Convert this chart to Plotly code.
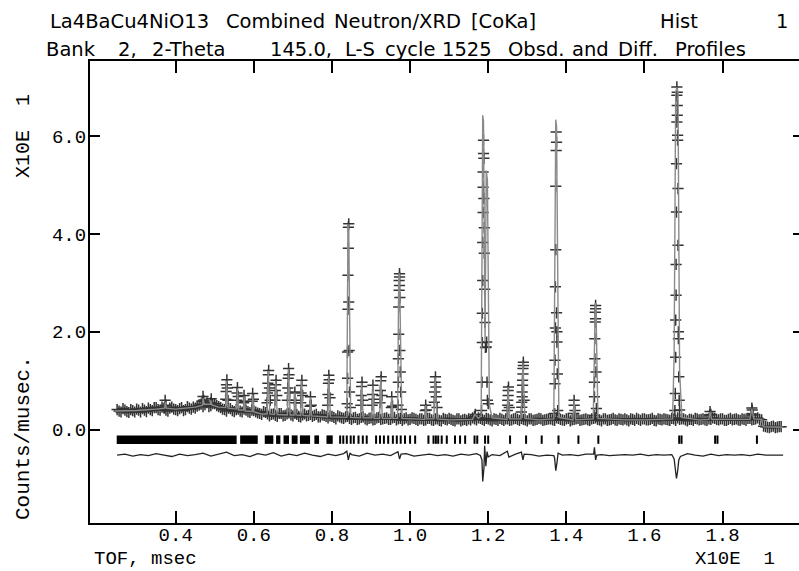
import plotly.graph_objects as go

# ---------------- data ----------------
# background part of the observed profile (TOF x10 msec, counts/musec x10)
bg_tof = [0.25,0.26,0.27,0.28,0.29,0.30,0.31,0.32,0.33,0.34,
          0.35,0.36,0.37,0.38,0.39,0.40,0.41,0.42,0.43,0.44,
          0.45,0.46,0.47,0.48,0.49,0.50,0.51,0.52,0.53,0.54,
          0.55,0.56,0.57,0.58,0.59,0.60,0.61,0.62,0.63,0.64,
          0.65,0.66,0.67,0.68,0.69,0.70,0.71,0.72,0.73,0.74,
          0.75,0.76,0.77,0.78,0.79,0.80,0.81,0.82,0.83,0.84,
          0.85,0.86,0.87,0.88,0.89,0.90,0.91,0.92,0.93,0.94,
          0.95,0.96,0.97,0.98,0.99,1.00,1.01,1.02,1.03,1.04,
          1.05,1.06,1.07,1.08,1.09,1.10,1.11,1.12,1.13,1.14,
          1.15,1.16,1.17,1.18,1.19,1.20,1.21,1.22,1.23,1.24,
          1.25,1.26,1.27,1.28,1.29,1.30,1.31,1.32,1.33,1.34,
          1.35,1.36,1.37,1.38,1.39,1.40,1.41,1.42,1.43,1.44,
          1.45,1.46,1.47,1.48,1.49,1.50,1.51,1.52,1.53,1.54,
          1.55,1.56,1.57,1.58,1.59,1.60,1.61,1.62,1.63,1.64,
          1.65,1.66,1.67,1.68,1.69,1.70,1.71,1.72,1.73,1.74,
          1.75,1.76,1.77,1.78,1.79,1.80,1.81,1.82,1.83,1.84,
          1.85,1.86,1.87,1.88,1.89,1.90,1.91,1.92,1.93,1.94,1.95]
bg_cnt = [0.41,0.36,0.40,0.35,0.39,0.42,0.36,0.40,0.44,0.39,
          0.45,0.40,0.44,0.38,0.46,0.41,0.43,0.39,0.47,0.42,
          0.44,0.50,0.47,0.55,0.49,0.53,0.47,0.42,0.38,0.43,
          0.37,0.42,0.36,0.40,0.35,0.39,0.34,0.31,0.35,0.28,
          0.32,0.27,0.33,0.29,0.34,0.28,0.31,0.26,0.32,0.29,
          0.27,0.31,0.26,0.29,0.24,0.27,0.22,0.26,0.23,0.27,
          0.21,0.25,0.22,0.26,0.20,0.24,0.21,0.25,0.22,0.24,
          0.21,0.25,0.22,0.19,0.24,0.21,0.23,0.19,0.22,0.20,
          0.23,0.19,0.22,0.18,0.21,0.23,0.19,0.22,0.18,0.21,
          0.22,0.24,0.20,0.23,0.19,0.22,0.18,0.21,0.23,0.19,
          0.22,0.20,0.23,0.19,0.21,0.18,0.22,0.20,0.23,0.19,
          0.21,0.22,0.19,0.23,0.20,0.22,0.18,0.21,0.23,0.20,
          0.22,0.19,0.23,0.21,0.18,0.22,0.20,0.23,0.19,0.21,
          0.22,0.18,0.21,0.23,0.19,0.22,0.20,0.23,0.18,0.21,
          0.22,0.20,0.23,0.19,0.21,0.22,0.18,0.21,0.23,0.20,
          0.22,0.19,0.21,0.23,0.20,0.22,0.19,0.23,0.21,0.20,
          0.22,0.19,0.23,0.21,0.24,0.20,0.06,0.04,0.07,0.05,0.06]
bg2_tof = [0.255,0.265,0.275,0.285,0.295,0.305,0.315,0.325,0.335,0.345,
           0.355,0.365,0.375,0.385,0.395,0.405,0.415,0.425,0.435,0.445,
           0.455,0.465,0.475,0.485,0.495,0.505,0.515,0.525,0.535,0.545,
           0.555,0.565,0.575,0.585,0.595,0.605,0.615,0.625,0.635,0.645,
           0.655,0.665,0.675,0.685,0.695,0.705,0.715,0.725,0.735,0.745,
           0.755,0.765,0.775,0.785,0.795,0.805,0.815,0.825,0.835,0.845,
           0.855,0.865,0.875,0.885,0.895,0.905,0.915,0.925,0.935,0.945,
           0.955,0.965,0.975,0.985,0.995,1.005,1.015,1.025,1.035,1.045,
           1.055,1.065,1.075,1.085,1.095,1.105,1.115,1.125,1.135,1.145,
           1.155,1.165,1.175,1.185,1.195,1.205,1.215,1.225,1.235,1.245,
           1.255,1.265,1.275,1.285,1.295,1.305,1.315,1.325,1.335,1.345,
           1.355,1.365,1.375,1.385,1.395,1.405,1.415,1.425,1.435,1.445,
           1.455,1.465,1.475,1.485,1.495,1.505,1.515,1.525,1.535,1.545,
           1.555,1.565,1.575,1.585,1.595,1.605,1.615,1.625,1.635,1.645,
           1.655,1.665,1.675,1.685,1.695,1.705,1.715,1.725,1.735,1.745,
           1.755,1.765,1.775,1.785,1.795,1.805,1.815,1.825,1.835,1.845,
           1.855,1.865,1.875,1.885,1.895,1.905,1.915,1.925,1.935,1.945]
bg2_cnt = [0.38,0.43,0.37,0.41,0.36,0.40,0.43,0.37,0.41,0.45,
           0.41,0.46,0.40,0.44,0.42,0.39,0.45,0.41,0.44,0.46,
           0.48,0.52,0.51,0.47,0.53,0.49,0.45,0.41,0.44,0.39,
           0.41,0.38,0.42,0.37,0.40,0.36,0.33,0.37,0.32,0.31,
           0.29,0.33,0.28,0.32,0.30,0.33,0.27,0.30,0.28,0.31,
           0.29,0.26,0.30,0.27,0.28,0.25,0.28,0.24,0.26,0.23,
           0.24,0.21,0.25,0.22,0.23,0.20,0.24,0.21,0.23,0.21,
           0.24,0.20,0.23,0.22,0.20,0.24,0.21,0.22,0.19,0.23,
           0.20,0.22,0.19,0.23,0.20,0.21,0.18,0.22,0.20,0.19,
           0.20,0.22,0.24,0.21,0.23,0.20,0.22,0.19,0.21,0.22,
           0.19,0.22,0.21,0.23,0.20,0.22,0.19,0.21,0.22,0.20,
           0.22,0.20,0.24,0.21,0.19,0.23,0.20,0.22,0.19,0.21,
           0.20,0.22,0.24,0.20,0.22,0.19,0.21,0.20,0.22,0.20,
           0.20,0.22,0.19,0.21,0.22,0.20,0.21,0.19,0.22,0.20,
           0.21,0.19,0.22,0.24,0.22,0.20,0.21,0.19,0.22,0.21,
           0.20,0.22,0.24,0.21,0.22,0.19,0.21,0.20,0.22,0.19,
           0.21,0.23,0.20,0.22,0.21,0.07,0.05,0.06,0.04,0.06]

# observed points on the Bragg peaks
pk_tof = [0.372,0.373,0.375, 0.468,0.470,0.472, 0.489,0.491,
          0.528,0.529,0.530,0.531,0.532,0.534, 0.556,0.557,0.558,0.560,
          0.574,0.575,0.577, 0.596,0.597,0.599,
          0.634,0.635,0.636,0.637,0.638,0.640,0.642,
          0.654,0.655,0.656,0.657,0.659,
          0.686,0.687,0.688,0.689,0.690,0.692, 0.704,0.705,0.707,
          0.720,0.721,0.722,0.723,0.725, 0.744,0.745,0.747,
          0.789,0.790,0.791,0.792,0.793,0.795,
          0.839,0.840,0.840,0.841,0.841,0.842,0.842,0.843,0.843,0.844,0.845,0.847,
          0.874,0.875,0.876,0.877,0.879, 0.903,0.904,0.905,0.907,
          0.923,0.924,0.925,0.926,0.928, 0.952,0.953,0.955,
          0.969,0.970,0.970,0.971,0.971,0.972,0.972,0.973,0.973,0.973,0.974,0.974,0.975,0.976,0.978,
          1.039,1.040,1.042, 1.062,1.063,1.064,1.065,1.066,1.067,1.069,
          1.165,1.167,
          1.183,1.184,1.185,1.185,1.186,1.186,1.187,1.187,1.187,1.188,1.188,1.189,1.189,1.190,1.190,
          1.191,1.192,1.193,1.195,1.196,1.197,1.198,1.200,
          1.249,1.250,1.250,1.251,1.251,1.252,1.254,
          1.285,1.286,1.286,1.287,1.287,1.288,1.288,1.289,1.289,1.290,1.290,1.292,
          1.370,1.371,1.371,1.372,1.372,1.373,1.373,1.374,1.374,1.375,1.375,1.376,1.376,1.377,1.378,
          1.419,1.420,1.420,1.422,
          1.471,1.472,1.472,1.473,1.473,1.474,1.474,1.475,1.475,1.475,1.476,1.477,
          1.678,1.679,1.680,1.680,1.681,1.681,1.682,1.682,1.683,1.683,1.683,1.684,1.684,1.684,
          1.685,1.685,1.686,1.686,1.687,1.687,1.688,1.689,1.690,
          1.767,1.768,1.770, 1.873,1.875,1.876,1.878]
pk_cnt = [0.45,0.60,0.50, 0.58,0.68,0.60, 0.55,0.63,
          0.62,0.78,0.92,1.02,0.85,0.60, 0.60,0.75,0.86,0.68,
          0.55,0.70,0.58, 0.58,0.74,0.62,
          0.55,0.75,0.95,1.12,1.21,0.85,0.60,
          0.60,0.80,0.92,1.01,0.70,
          0.60,0.85,1.05,1.25,1.12,0.75, 0.60,0.77,0.55,
          0.55,0.75,0.90,1.01,0.70, 0.48,0.67,0.50,
          0.50,0.72,0.95,1.11,1.02,0.65,
          0.53,1.05,1.59,2.46,3.16,3.71,4.14,4.21,2.61,1.62,0.77,0.45,
          0.50,0.70,0.88,0.97,0.60, 0.50,0.72,0.91,0.62,
          0.55,0.80,1.00,1.08,0.70, 0.45,0.67,0.48,
          0.50,0.97,1.45,1.95,2.51,2.85,3.05,3.19,3.12,2.95,2.70,1.62,1.18,0.77,0.41,
          0.39,0.50,0.40, 0.56,0.77,0.97,1.08,0.87,0.67,0.45,
          0.27,0.31,
          0.39,0.97,1.78,2.38,3.05,3.83,4.44,4.96,5.27,5.92,5.65,5.55,4.73,4.13,3.61,
          2.87,2.19,1.68,1.69,1.79,0.97,0.60,0.53,
          0.39,0.50,0.60,0.70,0.80,0.87,0.45,
          0.36,0.46,0.56,0.67,0.77,0.91,1.01,1.14,1.25,1.31,1.38,0.60,
          0.33,0.94,1.42,2.08,2.92,3.68,4.98,5.71,6.09,5.88,2.39,2.00,1.79,1.14,0.39,
          0.33,0.50,0.60,0.39,
          0.29,0.67,0.97,1.45,1.86,2.20,2.40,2.54,2.47,2.27,1.18,0.43,
          0.39,0.74,1.48,2.24,2.75,3.38,4.45,5.44,6.29,6.84,7.01,6.90,6.63,6.43,
          6.02,5.92,4.93,3.77,2.00,1.86,1.08,0.60,0.40,
          0.30,0.37,0.31, 0.32,0.44,0.40,0.30]

# calculated profile
calc_tof = [0.245,0.30,0.35,0.372,0.373,0.376,0.40,0.45,0.469,0.470,0.473,0.489,0.490,0.493,
            0.51,0.528,0.530,0.534,0.556,0.558,0.561,0.574,0.575,0.578,0.596,0.597,0.600,
            0.620,0.634,0.637,0.641,0.653,0.656,0.660,0.686,0.689,0.693,0.703,0.705,0.708,
            0.720,0.722,0.726,0.743,0.745,0.748,0.789,0.792,0.796,0.838,0.841,0.843,0.848,
            0.873,0.876,0.880,0.902,0.905,0.908,0.922,0.925,0.929,0.951,0.953,0.956,
            0.968,0.971,0.973,0.979,1.00,1.038,1.040,1.043,1.061,1.064,1.069,1.10,
            1.160,1.166,1.175,1.182,1.186,1.188,1.192,1.195,1.198,1.203,1.210,
            1.248,1.251,1.255,1.284,1.289,1.294,1.33,1.368,1.373,1.375,1.381,
            1.417,1.420,1.424,1.469,1.474,1.476,1.481,1.55,1.60,
            1.672,1.676,1.680,1.683,1.686,1.690,1.696,1.74,1.765,1.768,1.772,
            1.87,1.875,1.880,1.900,1.904,1.955]
calc_cnt = [0.38,0.39,0.42,0.44,0.56,0.44,0.42,0.46,0.50,0.64,0.52,0.52,0.60,0.50,
            0.46,0.45,1.00,0.44,0.42,0.84,0.40,0.40,0.68,0.38,0.37,0.72,0.36,
            0.32,0.32,1.20,0.32,0.31,1.00,0.31,0.30,1.24,0.30,0.30,0.76,0.30,
            0.29,1.00,0.29,0.28,0.66,0.28,0.26,1.10,0.26,0.25,4.20,4.10,0.25,
            0.24,0.96,0.24,0.24,0.90,0.23,0.23,1.07,0.23,0.23,0.66,0.23,
            0.23,3.15,3.20,0.23,0.22,0.21,0.50,0.22,0.22,1.07,0.22,0.20,
            0.21,0.31,0.23,0.28,6.43,6.30,1.80,5.30,5.10,0.50,0.24,
            0.21,0.87,0.22,0.22,1.37,0.23,0.20,0.22,6.34,6.20,0.25,
            0.20,0.60,0.20,0.22,2.59,2.50,0.23,0.20,0.20,
            0.22,1.50,6.90,7.00,6.90,1.20,0.25,0.20,0.21,0.36,0.21,
            0.21,0.43,0.22,0.21,0.06,0.05]

# difference profile (shifted)
diff_tof = [0.25,0.27,0.29,0.31,0.33,0.35,0.37,0.39,0.41,0.43,
            0.45,0.47,0.49,0.51,0.53,0.55,0.57,0.59,0.61,0.63,
            0.65,0.67,0.69,0.71,0.73,0.75,0.77,0.79,0.81,0.83,
            0.838,0.842,0.846,0.85,0.87,0.89,0.91,0.93,0.95,
            0.969,0.973,0.977,0.99,1.01,1.03,1.05,1.07,1.09,1.11,1.13,1.15,1.17,
            1.180,1.184,1.186,1.189,1.191,1.194,1.197,1.200,
            1.21,1.23,1.249,1.253,1.27,1.285,1.289,1.292,1.31,1.33,1.35,
            1.368,1.370,1.373,1.376,1.379,1.39,1.41,1.43,1.45,
            1.470,1.472,1.475,1.478,1.49,1.51,1.53,1.55,1.57,1.59,1.61,1.63,1.65,1.67,
            1.676,1.679,1.682,1.685,1.688,1.692,
            1.71,1.73,1.75,1.77,1.79,1.81,1.83,1.85,1.87,1.89,1.91,1.93,1.955]
diff_cnt = [-0.52,-0.50,-0.54,-0.51,-0.53,-0.49,-0.52,-0.55,-0.50,-0.53,
            -0.51,-0.48,-0.54,-0.50,-0.46,-0.53,-0.51,-0.55,-0.49,-0.52,
            -0.47,-0.54,-0.50,-0.53,-0.48,-0.52,-0.55,-0.50,-0.53,-0.49,
            -0.44,-0.62,-0.48,-0.51,-0.54,-0.48,-0.52,-0.50,-0.53,
            -0.45,-0.60,-0.50,-0.49,-0.54,-0.52,-0.50,-0.53,-0.51,-0.54,-0.50,-0.52,-0.49,
            -0.53,-0.62,-1.06,-0.80,-0.33,-0.75,-0.45,-0.56,
            -0.51,-0.53,-0.44,-0.56,-0.50,-0.46,-0.62,-0.50,-0.51,-0.54,-0.52,
            -0.53,-0.58,-0.84,-0.68,-0.48,-0.52,-0.51,-0.53,-0.50,
            -0.50,-0.36,-0.62,-0.52,-0.51,-0.53,-0.52,-0.51,-0.52,-0.50,-0.53,-0.51,-0.52,-0.51,
            -0.60,-0.88,-1.00,-0.85,-0.62,-0.55,
            -0.49,-0.52,-0.54,-0.50,-0.53,-0.51,-0.52,-0.51,-0.53,-0.50,-0.52,-0.52,-0.52]

# reflection markers: dense ranges and single positions
refl_ranges = [(0.249,0.556),(0.565,0.610),(0.628,0.650),(0.657,0.668),(0.676,0.690),
               (0.697,0.712),(0.718,0.744),(0.755,0.767),(0.786,0.802)]
refl_pos = [0.821,0.829,0.838,0.848,0.856,0.868,0.879,0.889,0.913,0.923,0.933,0.944,
            0.956,0.966,0.976,0.987,1.000,1.013,1.047,1.060,1.066,1.072,1.081,1.094,
            1.115,1.128,1.141,1.165,1.172,1.192,1.200,1.256,1.297,1.337,1.380,1.431,
            1.482,1.689,1.695,1.781,1.787,1.888]

x_ticks = [0.4,0.6,0.8,1.0,1.2,1.4,1.6,1.8]
x_ticklabels = ["0.4","0.6","0.8","1.0","1.2","1.4","1.6","1.8"]
y_ticks = [0.0,2.0,4.0,6.0]
y_ticklabels = ["0.0","2.0","4.0","6.0"]

title1_words = ["La4BaCu4NiO13", "Combined", "Neutron/XRD", "[CoKa]"]
title2_words = ["Bank", "2,", "2-Theta", "145.0,", "L-S", "cycle", "1525", "Obsd.", "and", "Diff.", "Profiles"]

# ---------------- figure ----------------
W, H = 799, 571
ML, MR, MT, MB = 90, 0, 61, 48
PW, PH = W - ML - MR, H - MT - MB
FONT = "Liberation Mono, DejaVu Sans Mono, monospace"
TFONT = "DejaVu Sans, Verdana, sans-serif"
REFL_TOP, REFL_BOT = -0.12, -0.29
REFL_MID = (REFL_TOP + REFL_BOT) / 2

def px(x):
    return (x - ML) / PW

def py(y):
    return (H - MB - y) / PH

fig = go.Figure()

fig.add_trace(go.Scatter(x=bg_tof + bg2_tof + pk_tof, y=bg_cnt + bg2_cnt + pk_cnt, mode="markers",
                         marker=dict(symbol="cross-thin", size=8, color="#333",
                                     line=dict(width=1.5, color="#333")),
                         showlegend=False, hoverinfo="skip"))
fig.add_trace(go.Scatter(x=calc_tof, y=calc_cnt, mode="lines",
                         line=dict(color="#8a8a8a", width=1.4),
                         showlegend=False, hoverinfo="skip"))
fig.add_trace(go.Scatter(x=diff_tof, y=diff_cnt, mode="lines",
                         line=dict(color="#222", width=1.3),
                         showlegend=False, hoverinfo="skip"))

rx, ry = [], []
for a, b in refl_ranges:
    rx += [a, b, None]
    ry += [REFL_MID, REFL_MID, None]
fig.add_trace(go.Scatter(x=rx, y=ry, mode="lines", line=dict(color="black", width=8.5),
                         showlegend=False, hoverinfo="skip"))
tx, ty = [], []
for t in refl_pos:
    tx += [t, t, None]
    ty += [REFL_TOP, REFL_BOT, None]
fig.add_trace(go.Scatter(x=tx, y=ty, mode="lines", line=dict(color="black", width=2),
                         showlegend=False, hoverinfo="skip"))
fig.add_trace(go.Scatter(x=[None], y=[None], yaxis="y2", showlegend=False))

tickfont = dict(family=FONT, size=19, color="black")
fig.update_layout(
    width=W, height=H, margin=dict(l=ML, r=MR, t=MT, b=MB, autoexpand=False),
    paper_bgcolor="white", plot_bgcolor="white",
    xaxis=dict(range=[0.1806, 1.9957], tickvals=x_ticks, ticktext=x_ticklabels,
               ticks="inside", ticklen=12, tickwidth=1.5, tickcolor="black",
               showline=True, linewidth=2, linecolor="black", mirror="ticks",
               showgrid=False, zeroline=False, tickfont=tickfont,
               ticklabelstandoff=-7, automargin=False),
    yaxis=dict(range=[-1.91, 7.54], tickvals=y_ticks, ticktext=y_ticklabels,
               ticks="inside", ticklen=10, tickwidth=1.5, tickcolor="black",
               showline=True, linewidth=2, linecolor="black",
               showgrid=False, zeroline=False, tickfont=tickfont,
               ticklabelstandoff=-2, automargin=False),
    yaxis2=dict(range=[-1.91, 7.54], overlaying="y", side="right", tickvals=y_ticks,
                ticks="inside", ticklen=6, tickwidth=1.5, tickcolor="black",
                showticklabels=False, showline=False, showgrid=False, zeroline=False,
                automargin=False),
)

def txt(s, x, y, xanchor="left", angle=0, size=19, family=FONT):
    fig.add_annotation(text=s, x=px(x), y=py(y), xref="paper", yref="paper",
                       xanchor=xanchor, yanchor="middle", showarrow=False,
                       textangle=angle, font=dict(family=family, size=size, color="black"))

# title, placed word by word at the positions
for word, x in zip(title1_words, [48, 224, 332, 469]):
    txt(word, x, 21, size=19.5, family=TFONT)
txt("Hist", 658, 21, size=19.5, family=TFONT)
txt("1", 782, 21, xanchor="center", size=19.5, family=TFONT)
for word, x in zip(title2_words, [71, 127, 189, 301, 360, 410, 467, 536, 590, 638, 710]):
    txt(word, x, 49, xanchor="center", size=19.5, family=TFONT)

txt("Counts/musec.", 23, 438, xanchor="center", angle=-90, size=21)
txt("X10E\u00a0\u00a01", 23, 136, xanchor="center", angle=-90, size=20)
txt("TOF,\u00a0msec", 92, 559)
txt("X10E\u00a0\u00a01", 693, 559)

fig.write_html("out.html", config={"displayModeBar": False},
               post_script="document.body.style.margin='0px';")
